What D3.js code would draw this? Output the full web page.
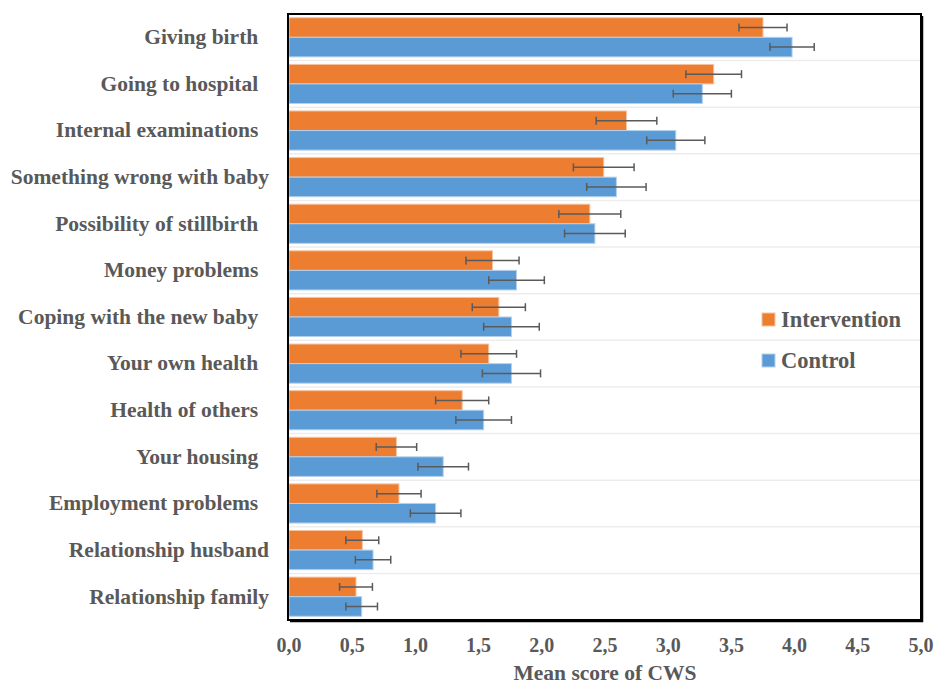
<!DOCTYPE html>
<html>
<head>
<meta charset="utf-8">
<script src="https://cdn.jsdelivr.net/npm/d3@7"></script>
<style>
	body { margin: 0; background: #fff; }
	text { font-family: 'Liberation Serif', 'Times New Roman', serif; font-weight: bold; }
	.cat { font-size: 21.5px; fill: #595959; white-space: pre; }
	.tick-lbl { font-size: 20px; fill: #595959; }
	.legend { font-size: 22.5px; fill: #595959; }
</style>
</head>
<body>
<svg id="chart"></svg>
<script>
'use strict';
//Categories, top to bottom. Trailing spaces come from the original labels.
const cats = [
	'Giving birth  ',
	'Going to hospital  ',
	'Internal examinations  ',
	'Something wrong with baby',
	'Possibility of stillbirth  ',
	'Money problems  ',
	'Coping with the new baby  ',
	'Your own health  ',
	'Health of others  ',
	'Your housing  ',
	'Employment problems  ',
	'Relationship husband',
	'Relationship family'
];
const series = ['Intervention', 'Control'];
//Mean scores and error bar half-widths, in the order of cats.
const intervention = [3.75, 3.36, 2.67, 2.49, 2.38, 1.61, 1.66, 1.58, 1.37, 0.85, 0.87, 0.58, 0.53];
const interventionErr = [0.19, 0.22, 0.24, 0.24, 0.245, 0.21, 0.21, 0.22, 0.21, 0.16, 0.175, 0.13, 0.13];
const control = [3.98, 3.27, 3.06, 2.59, 2.42, 1.80, 1.76, 1.76, 1.54, 1.22, 1.16, 0.665, 0.575];
const controlErr = [0.175, 0.23, 0.23, 0.235, 0.24, 0.22, 0.22, 0.23, 0.22, 0.2, 0.2, 0.14, 0.125];
const xTicks = [0, 0.5, 1, 1.5, 2, 2.5, 3, 3.5, 4, 4.5, 5];
const colors = { Intervention: '#ED7D31', Control: '#5B9BD5' };
const strokes = { Intervention: '#F6C3A0', Control: '#B4D0EC' };

const W = 937, H = 685;
const pL = 289, pR = 921, pT = 14, pB = 620; //Plot area edges.
const svg = d3.select('#chart').attr('width', W).attr('height', H);

const x = d3.scaleLinear().domain([0, 5]).range([pL, pR]);
const y = d3.scaleBand().domain(cats).range([pT, pB]).paddingInner(0.16).paddingOuter(0.08);
const ySub = d3.scaleBand().domain(series).range([0, y.bandwidth()]);

//Rows built from the arrays.
const rows = cats.map((c, i) => ({
	cat: c,
	vals: [
		{ s: 'Intervention', v: intervention[i], e: interventionErr[i] },
		{ s: 'Control', v: control[i], e: controlErr[i] }
	]
}));

//Light separators between categories.
const step = y.step();
svg.append('g')
	.selectAll('line')
	.data(d3.range(1, cats.length))
	.join('line')
	.attr('x1', pL)
	.attr('x2', pR)
	.attr('y1', k => pT + k * step)
	.attr('y2', k => pT + k * step)
	.style('stroke', '#EDEDED')
	.style('stroke-width', '1.5px');

//Bars.
const groups = svg.append('g')
	.selectAll('g')
	.data(rows)
	.join('g')
	.attr('transform', d => `translate(0,${y(d.cat)})`);
groups.selectAll('rect')
	.data(d => d.vals)
	.join('rect')
	.attr('x', x(0))
	.attr('y', d => ySub(d.s))
	.attr('width', d => x(d.v) - x(0))
	.attr('height', ySub.bandwidth())
	.style('fill', d => colors[d.s])
	.style('stroke', d => strokes[d.s])
	.style('stroke-width', '1px');

//Error bars.
const errG = groups.selectAll('g.err')
	.data(d => d.vals)
	.join('g')
	.attr('class', 'err')
	.attr('transform', d => `translate(0,${ySub(d.s) + ySub.bandwidth() / 2})`)
	.style('stroke', '#5a5a5a')
	.style('stroke-width', '1.5px');
errG.append('line')
	.attr('x1', d => x(d.v - d.e))
	.attr('x2', d => x(d.v + d.e));
errG.append('line')
	.attr('x1', d => x(d.v - d.e))
	.attr('x2', d => x(d.v - d.e))
	.attr('y1', -4).attr('y2', 4);
errG.append('line')
	.attr('x1', d => x(d.v + d.e))
	.attr('x2', d => x(d.v + d.e))
	.attr('y1', -4).attr('y2', 4);

//Category axis line.
svg.append('line')
	.attr('x1', pL - 1).attr('x2', pL - 1)
	.attr('y1', pT).attr('y2', pB)
	.style('stroke', '#8c8c8c')
	.style('stroke-width', '1.5px');

//Frame around the plot, with a heavier right and bottom edge.
svg.append('rect')
	.attr('x', pL - 1).attr('y', pT)
	.attr('width', pR - pL + 1).attr('height', pB - pT)
	.style('fill', 'none')
	.style('stroke', 'black')
	.style('stroke-width', '2px');
svg.append('path')
	.attr('d', `M${pR + 1.5},${pT + 2}V${pB + 1.5}H${pL + 1}`)
	.style('fill', 'none')
	.style('stroke', 'black')
	.style('stroke-width', '1.5px');

//Category labels.
svg.append('g')
	.selectAll('text')
	.data(cats)
	.join('text')
	.attr('class', 'cat')
	.attr('x', 269)
	.attr('y', d => y(d) + y.bandwidth() / 2)
	.attr('dy', '0.32em')
	.attr('text-anchor', 'end')
	.text(d => d);

//Value axis labels.
svg.append('g')
	.selectAll('text')
	.data(xTicks)
	.join('text')
	.attr('class', 'tick-lbl')
	.attr('x', d => x(d))
	.attr('y', 652)
	.attr('text-anchor', 'middle')
	.text(d => d.toFixed(1).replace('.', ','));

svg.append('text')
	.attr('class', 'cat')
	.attr('x', 605)
	.attr('y', 680)
	.attr('text-anchor', 'middle')
	.text('Mean score of CWS');

//Legend.
const lg = svg.append('g')
	.selectAll('g')
	.data(series)
	.join('g')
	.attr('transform', (d, i) => `translate(762,${313 + i * 41})`);
lg.append('rect')
	.attr('width', 13).attr('height', 13)
	.style('fill', d => colors[d])
	.style('stroke', d => strokes[d])
	.style('stroke-width', '1px');
lg.append('text')
	.attr('class', 'legend')
	.attr('x', 19)
	.attr('y', 14)
	.text(d => d);
</script>
</body>
</html>
